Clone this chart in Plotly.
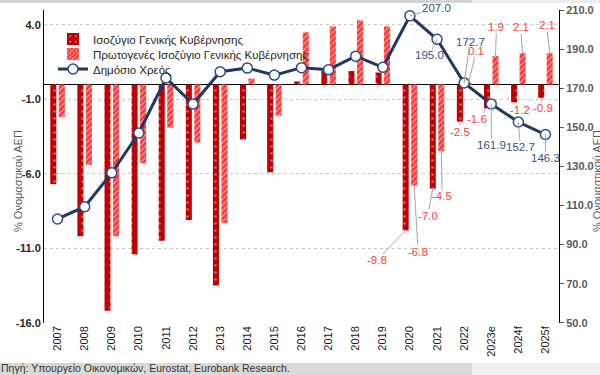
import plotly.graph_objects as go

# ---------------- data ----------------
years = ["2007", "2008", "2009", "2010", "2011", "2012", "2013", "2014", "2015",
         "2016", "2017", "2018", "2019", "2020", "2021", "2022", "2023e", "2024f", "2025f"]
balance = [-6.7, -10.2, -15.2, -11.4, -10.5, -9.1, -13.5, -3.7, -5.9,
           0.2, 0.9, 0.9, 0.8, -9.8, -7.0, -2.5, -1.6, -1.2, -0.9]
primary = [-2.2, -5.4, -10.2, -5.3, -2.9, -3.9, -9.3, 0.4, -2.1,
           3.5, 3.9, 4.3, 3.9, -6.8, -4.5, 0.1, 1.9, 2.1, 2.1]
debt = [103.1, 109.4, 126.7, 147.1, 175.2, 161.9, 178.4, 180.3, 176.7,
        180.5, 179.5, 186.4, 180.7, 207.0, 195.0, 172.7, 161.9, 152.7, 146.3]
left_ticks = [4, -1, -6, -11, -16]
right_ticks = [50, 70, 90, 110, 130, 150, 170, 190, 210]
names = ["Ισοζύγιο Γενικής Κυβέρνησης", "Πρωτογενές Ισοζύγιο Γενικής Κυβέρνησης", "Δημόσιο Χρεός"]
axis_title = "% Ονομαστικού ΑΕΠ"
source = "Πηγή: Υπουργείο Οικονομικών, Eurostat, Eurobank Research."
labelled = ["2020", "2021", "2022", "2023e", "2024f", "2025f"]

# label offsets (pixels) for the value labels
off_bal = {"2020": (-29, 30), "2021": (-5, 27), "2022": (0, 10), "2023e": (-10, 11), "2024f": (6, 8), "2025f": (2, 10)}
off_pri = {"2020": (4, 66), "2021": (1, 45), "2022": (8, -32), "2023e": (1, -29), "2024f": (-2, -26), "2025f": (-3, -28)}
off_debt = {"2020": (27, -8), "2021": (-8, 16), "2022": (6, -41), "2023e": (0, 41), "2024f": (2, 25), "2025f": (0, 23)}

# ---------------- layout geometry ----------------
W, H = 600, 375
L, R, T, B = 44, 41, 10, 52
PW, PH = W - L - R, H - T - B


def pxx(x):
    return (x - L) / PW


def pyy(y):
    return (H - B - y) / PH


DARK = "#C00000"
HATCH = "#FF3434"
NAVY = "#1F3864"
RED_TXT = "#FF3B3B"
BLUE_TXT = "#34508A"
FONT = "Liberation Sans, Arial, sans-serif"
LBL = "Liberation Sans Narrow, Arial Narrow, Liberation Sans, Arial, sans-serif"

fig = go.Figure()
fig.add_trace(go.Bar(
    x=years, y=balance, name=names[0], yaxis="y", legend="legend",
    marker=dict(color=DARK, line=dict(width=0),
                pattern=dict(shape=".", fgcolor="rgba(255,255,255,0.75)", size=7,
                             solidity=0.12, fillmode="overlay")),
))
fig.add_trace(go.Bar(
    x=years, y=primary, name=names[1], yaxis="y", legend="legend2",
    marker=dict(color=HATCH, line=dict(width=0),
                pattern=dict(shape="/", fgcolor="white", size=4,
                             solidity=0.35, fillmode="overlay")),
))
fig.add_trace(go.Scatter(
    x=years, y=debt, name=names[2], yaxis="y2", mode="lines+markers", legend="legend3",
    line=dict(color=NAVY, width=3),
    marker=dict(symbol="circle", size=10, color="white",
                line=dict(color="#2F4B84", width=1.5)),
))

annotations = []
BAR_SHIFT = 4.25
for i, yr in enumerate(years):
    if yr not in labelled:
        continue
    for val, offs, yref, shift, col in (
        (balance[i], off_bal, "y", -BAR_SHIFT, RED_TXT),
        (primary[i], off_pri, "y", BAR_SHIFT, RED_TXT),
        (debt[i], off_debt, "y2", 0, BLUE_TXT),
    ):
        ax, ay = offs[yr]
        annotations.append(dict(
            x=i, y=val, xref="x", yref=yref, xshift=shift,
            text=f"{val:.1f}", showarrow=True, arrowhead=0, arrowwidth=1,
            arrowcolor="#A6A6A6", standoff=0, ax=ax, ay=ay, borderpad=0,
            font=dict(family=LBL, size=11.5, color=col),
        ))

# axis titles
for xp in (18, 597):
    annotations.append(dict(
        x=pxx(xp), y=pyy(181), xref="paper", yref="paper", text=axis_title,
        showarrow=False, textangle=-90, xanchor="center", yanchor="middle",
        font=dict(family=FONT, size=11, color="#595959"),
    ))
# source
annotations.append(dict(
    x=pxx(-1), y=pyy(367.5), xref="paper", yref="paper", text=source,
    showarrow=False, xanchor="left", yanchor="middle",
    font=dict(family=FONT, size=10.5, color="#333333"),
))

shapes = [
    dict(type="rect", xref="paper", yref="paper", x0=pxx(0), x1=pxx(472), y0=pyy(363), y1=pyy(375),
         fillcolor="#D9D9D9", line=dict(width=0), layer="below"),
    dict(type="rect", xref="paper", yref="paper", x0=pxx(472), x1=pxx(600), y0=pyy(363), y1=pyy(375),
         fillcolor="#F0F0F0", line=dict(width=0), layer="below"),
    dict(type="rect", xref="paper", yref="paper", x0=pxx(0), x1=pxx(472), y0=pyy(0), y1=pyy(3),
         fillcolor="#D4D4D4", line=dict(width=0), layer="below"),
    dict(type="rect", xref="paper", yref="paper", x0=pxx(472), x1=pxx(600), y0=pyy(0), y1=pyy(3),
         fillcolor="#EDEDED", line=dict(width=0), layer="below"),
]


def legend_at(yc):
    return dict(x=pxx(53), y=pyy(yc), xanchor="left", yanchor="middle",
                bgcolor="rgba(0,0,0,0)", borderwidth=0, itemwidth=30,
                font=dict(family=FONT, size=11.5, color="#262626"))


fig.update_layout(
    width=W, height=H,
    margin=dict(l=L, r=R, t=T, b=B, pad=0, autoexpand=False),
    paper_bgcolor="white", plot_bgcolor="rgba(0,0,0,0)",
    barmode="group", bargap=0.373, bargroupgap=0.29,
    font=dict(family=FONT, color="#262626"),
    showlegend=True,
    legend=legend_at(39), legend2=legend_at(54), legend3=legend_at(69),
    xaxis=dict(type="category", categoryorder="array", categoryarray=years,
               range=[-0.5, len(years) - 0.5], autorange=False, automargin=False,
               tickangle=-90, showgrid=False, showline=False,
               ticks="", tickfont=dict(family=FONT, size=11, color="#1a1a1a"),
               zeroline=False),
    yaxis=dict(range=[-16.02, 5.0], tickvals=left_ticks, automargin=False,
               ticktext=[f"{v:.1f}" for v in left_ticks],
               tickfont=dict(family=FONT, size=11, color="#262626", weight="bold"),
               showgrid=True, gridcolor="#C8C8C8", griddash="dot", gridwidth=1,
               zeroline=True, zerolinecolor="black", zerolinewidth=1.2,
               showline=True, linecolor="black", linewidth=1, ticks=""),
    yaxis2=dict(range=[49.9, 210.0], overlaying="y", side="right", tickvals=right_ticks,
                automargin=False,
                ticktext=[f"{v:.1f}" for v in right_ticks],
                tickfont=dict(family=FONT, size=11, color="#595959", weight="bold"),
                showgrid=False, zeroline=False, showline=True, linecolor="black",
                linewidth=1, ticks="outside", ticklen=4, tickcolor="#595959"),
    annotations=annotations,
    shapes=shapes,
)

fig.write_html("out.html", config={"displayModeBar": False},
               post_script="document.body.style.margin='0';document.body.style.overflow='hidden';")
